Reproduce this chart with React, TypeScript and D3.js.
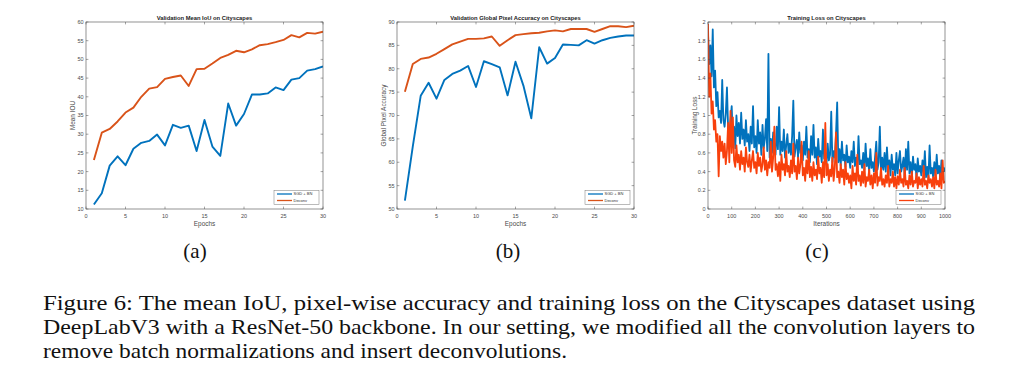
import * as d3 from 'd3';

// ---- data ----
const EPOCHS = [1, 2, 3, 4, 5, 6, 7, 8, 9, 10, 11, 12, 13, 14, 15, 16, 17, 18, 19, 20, 21, 22, 23, 24, 25, 26, 27, 28, 29, 30];

const IOU_SGD = [11.2, 14.2, 21.6, 24.1, 21.7, 26.1, 27.7, 28.2, 29.9, 27.0, 32.5, 31.7, 32.3, 25.5, 33.8, 26.7, 24.2, 38.2, 32.3, 35.4, 40.6, 40.6, 40.9, 42.5, 41.8, 44.6, 45.0, 47.0, 47.4, 48.1];
const IOU_DECONV = [23.1, 30.4, 31.4, 33.4, 35.8, 37.1, 40.0, 42.2, 42.6, 44.8, 45.3, 45.7, 42.9, 47.4, 47.5, 48.9, 50.4, 51.2, 52.3, 51.9, 52.7, 53.8, 54.1, 54.6, 55.2, 56.5, 55.9, 57.1, 56.9, 57.4];

const ACC_SGD = [51.8, 63.4, 74.2, 77.0, 73.6, 77.6, 78.9, 79.6, 80.6, 76.1, 81.6, 81.0, 80.3, 74.3, 81.5, 76.4, 69.4, 84.6, 81.1, 82.3, 85.2, 85.1, 85.0, 86.1, 85.4, 86.1, 86.6, 86.9, 87.1, 87.1];
const ACC_DECONV = [75.1, 81.0, 82.1, 82.4, 83.2, 84.2, 85.2, 85.8, 86.4, 86.4, 86.5, 86.9, 84.9, 86.1, 87.2, 87.4, 87.6, 87.7, 88.0, 88.2, 88.0, 88.5, 88.5, 88.5, 87.9, 88.5, 89.1, 89.1, 88.9, 89.2];

// loss sampled every 5 iterations, 0..1000
const LOSS_ITERS = d3.range(0, 1001, 5);
const LOSS_SGD = [
  1.88, 1.55, 1.75, 1.42, 1.92, 1.30, 1.48, 1.10, 1.25, 0.98,
  1.05, 0.92, 1.38, 0.95, 0.88, 1.02, 1.30, 0.85, 0.78, 0.95,
  1.10, 0.72, 0.88, 0.65, 1.00, 0.78, 0.92, 0.70, 1.03, 0.75,
  0.85, 0.68, 0.95, 0.72, 0.80, 0.62, 0.88, 0.70, 1.10, 0.66,
  0.78, 0.60, 0.95, 0.70, 0.82, 0.58, 0.90, 0.65, 0.75, 0.96,
  0.62, 1.66, 0.55, 0.75, 0.60, 0.82, 0.68, 0.58, 0.88, 0.64,
  1.09, 0.58, 0.72, 0.62, 0.85, 0.55, 0.68, 0.80, 0.60, 0.70,
  0.58, 0.78, 1.16, 0.56, 0.66, 0.74, 0.55, 0.82, 0.60, 0.68,
  0.52, 0.72, 0.58, 0.88, 0.55, 0.64, 0.50, 0.78, 0.58, 0.90,
  0.55, 0.66, 0.48, 0.75, 0.56, 0.62, 0.50, 0.85, 0.54, 0.60,
  0.48, 0.70, 0.52, 0.58, 1.04, 0.50, 0.62, 0.55, 0.80, 1.14,
  0.50, 0.64, 0.46, 0.72, 0.52, 0.58, 0.45, 0.68, 0.50, 0.56,
  0.44, 0.62, 0.50, 0.72, 0.46, 0.55, 0.42, 0.78, 0.48, 0.52,
  0.44, 0.60, 0.42, 0.70, 0.46, 0.54, 0.40, 0.64, 0.44, 0.50,
  0.40, 0.56, 0.72, 0.42, 0.50, 0.88, 0.40, 0.55, 0.42, 0.60,
  0.40, 0.66, 0.44, 0.52, 0.36, 0.58, 0.42, 0.48, 0.36, 0.60,
  0.38, 0.52, 0.62, 0.40, 0.46, 0.55, 0.34, 0.64, 0.42, 0.72,
  0.38, 0.50, 0.34, 0.56, 0.42, 0.48, 0.33, 0.54, 0.40, 0.46,
  0.36, 0.52, 0.38, 0.62, 0.34, 0.45, 0.33, 0.68, 0.38, 0.44,
  0.34, 0.50, 0.36, 0.58, 0.38, 0.46, 0.32, 0.52, 0.36, 0.44,
  0.40,
];
const LOSS_DECONV = [
  1.98, 1.20, 1.45, 1.02, 1.15, 0.85, 0.95, 0.72, 0.80, 0.35,
  0.78, 0.62, 0.72, 0.55, 0.70, 0.48, 0.62, 0.92, 0.50, 1.05,
  0.60, 0.98, 0.52, 0.45, 0.68, 0.50, 0.58, 0.42, 0.62, 0.48,
  0.55, 0.40, 0.66, 0.50, 0.45, 0.58, 0.40, 0.52, 0.62, 0.44,
  0.50, 0.38, 0.60, 0.46, 0.55, 0.40, 0.48, 0.66, 0.42, 0.52,
  0.36, 0.50, 0.44, 0.72, 0.40, 0.55, 0.88, 0.42, 0.48, 0.35,
  0.50, 0.30, 0.58, 0.42, 0.48, 0.36, 0.62, 0.40, 0.46, 0.34,
  0.52, 0.38, 0.70, 0.40, 0.46, 0.32, 0.55, 0.38, 0.48, 0.72,
  0.36, 0.44, 0.30, 0.52, 0.38, 0.62, 0.34, 0.45, 0.30, 0.50,
  0.36, 0.42, 0.32, 0.56, 0.38, 0.44, 0.28, 0.50, 0.34, 0.92,
  0.36, 0.48, 0.30, 0.42, 0.35, 0.55, 0.30, 0.44, 0.82, 0.34,
  0.40, 0.28, 0.48, 0.34, 0.42, 0.26, 0.50, 0.32, 0.38, 0.28,
  0.36, 0.22, 0.46, 0.30, 0.38, 0.26, 0.58, 0.30, 0.36, 0.25,
  0.40, 0.28, 0.48, 0.24, 0.34, 0.30, 0.42, 0.26, 0.36, 0.22,
  0.38, 0.28, 0.60, 0.25, 0.34, 0.30, 0.44, 0.26, 0.32, 0.24,
  0.36, 0.28, 0.46, 0.24, 0.32, 0.28, 0.40, 0.24, 0.34, 0.22,
  0.35, 0.26, 0.42, 0.28, 0.32, 0.24, 0.44, 0.26, 0.30, 0.22,
  0.36, 0.26, 0.40, 0.24, 0.30, 0.28, 0.38, 0.22, 0.34, 0.26,
  0.32, 0.24, 0.46, 0.26, 0.30, 0.22, 0.36, 0.28, 0.32, 0.24,
  0.34, 0.22, 0.42, 0.26, 0.30, 0.24, 0.38, 0.22, 0.52, 0.28,
  0.30,
];

const EPOCH_TICKS = [0, 5, 10, 15, 20, 25, 30];
const IOU_TICKS = [10, 15, 20, 25, 30, 35, 40, 45, 50, 55, 60];
const ACC_TICKS = [50, 55, 60, 65, 70, 75, 80, 85, 90];
const ITER_TICKS = [0, 100, 200, 300, 400, 500, 600, 700, 800, 900, 1000];
const LOSS_TICKS = [0, 0.2, 0.4, 0.6, 0.8, 1, 1.2, 1.4, 1.6, 1.8, 2];

const LEGEND = ['SGD + BN', 'Deconv'];
const SUBLABELS = ['(a)', '(b)', '(c)'];
const CAPTION = [
  'Figure 6: The mean IoU, pixel-wise accuracy and training loss on the Cityscapes dataset using',
  'DeepLabV3 with a ResNet-50 backbone. In our setting, we modified all the convolution layers to',
  'remove batch normalizations and insert deconvolutions.',
];
const CAPTION_WIDTHS = [932, 932, 524];

const BLUE = '#0072BD';
const ORANGE = '#D95319';
const RED = '#F8400C';
const AXIS = '#4a4a4a';
const SANS = 'Liberation Sans, Arial, sans-serif';
const SERIF = 'Liberation Serif, Times New Roman, serif';

const TOP = 22;
const BOTTOM = 209;
const PW = 237;

type Series = { x: number[]; y: number[]; color: string; width: number };

function Panel(props: {
  left: number;
  title: string;
  xLabel: string;
  yLabel: string;
  xDomain: [number, number];
  yDomain: [number, number];
  xTicks: number[];
  yTicks: number[];
  series: Series[];
}) {
  const { left, title, xLabel, yLabel, xDomain, yDomain, xTicks, yTicks, series } = props;
  const right = left + PW;
  const x = d3.scaleLinear().domain(xDomain).range([left, right]);
  const y = d3.scaleLinear().domain(yDomain).range([BOTTOM, TOP]);
  const tl = 2.4;

  const lgW = 45;
  const lgX = right - lgW - 4;
  const lgY = 190.5;

  return (
    <g fontFamily={SANS}>
      <defs>
        <clipPath id={`clip${left}`}>
          <rect x={left} y={TOP} width={PW} height={BOTTOM - TOP} />
        </clipPath>
      </defs>
      <rect x={left} y={TOP} width={PW} height={BOTTOM - TOP} fill="#fff" />
      <g clipPath={`url(#clip${left})`}>
        {series.map((s, i) => {
          const pts = s.x.map((v, k) => [v, s.y[k]] as [number, number]);
          const path = d3
            .line<[number, number]>()
            .x((d) => x(d[0]))
            .y((d) => y(d[1]))(pts);
          return (
            <path key={i} d={path ?? ''} fill="none" stroke={s.color} strokeWidth={s.width} strokeLinejoin="round" />
          );
        })}
      </g>
      <rect x={left} y={TOP} width={PW} height={BOTTOM - TOP} fill="none" stroke={AXIS} strokeWidth={0.6} />
      {xTicks.map((t) => (
        <g key={`x${t}`}>
          <line x1={x(t)} x2={x(t)} y1={BOTTOM} y2={BOTTOM - tl} stroke={AXIS} strokeWidth={0.5} />
          <line x1={x(t)} x2={x(t)} y1={TOP} y2={TOP + tl} stroke={AXIS} strokeWidth={0.5} />
          <text x={x(t)} y={217.5} fontSize={5.5} fill={AXIS} textAnchor="middle">
            {t}
          </text>
        </g>
      ))}
      {yTicks.map((t) => (
        <g key={`y${t}`}>
          <line x1={left} x2={left + tl} y1={y(t)} y2={y(t)} stroke={AXIS} strokeWidth={0.5} />
          <line x1={right} x2={right - tl} y1={y(t)} y2={y(t)} stroke={AXIS} strokeWidth={0.5} />
          <text x={left - 2.5} y={y(t)} dy="0.35em" fontSize={5.5} fill={AXIS} textAnchor="end">
            {d3.format('~g')(t)}
          </text>
        </g>
      ))}
      <text x={(left + right) / 2} y={19.5} fontSize={5.8} fontWeight="bold" fill="#222" textAnchor="middle">
        {title}
      </text>
      <text x={(left + right) / 2} y={225.5} fontSize={6.4} fill={AXIS} textAnchor="middle">
        {xLabel}
      </text>
      <text
        transform={`translate(${left - 13},${(TOP + BOTTOM) / 2}) rotate(-90)`}
        fontSize={6.4}
        fill={AXIS}
        textAnchor="middle"
        dy="0.35em"
      >
        {yLabel}
      </text>
      <rect x={lgX} y={lgY} width={lgW} height={14} fill="#fff" stroke="#777" strokeWidth={0.5} />
      {series.map((s, i) => (
        <g key={`lg${i}`}>
          <line
            x1={lgX + 3}
            x2={lgX + 18}
            y1={lgY + 3.5 + i * 6.5}
            y2={lgY + 3.5 + i * 6.5}
            stroke={s.color}
            strokeWidth={1.3}
          />
          <text x={lgX + 19.5} y={lgY + 3.5 + i * 6.5} dy="0.35em" fontSize={4} fill="#333">
            {LEGEND[i]}
          </text>
        </g>
      ))}
    </g>
  );
}

export default function App() {
  const lefts = [86, 397, 708];
  const subX = [195, 508, 817];
  return (
    <svg
      width={1024}
      height={388}
      viewBox="0 0 1024 388"
      style={{ position: 'absolute', left: 0, top: 0, background: '#fff' }}
    >
      <rect width={1024} height={388} fill="#fff" />
      <Panel
        left={lefts[0]}
        title="Validation Mean IoU on Cityscapes"
        xLabel="Epochs"
        yLabel="Mean IOU"
        xDomain={[0, 30]}
        yDomain={[10, 60]}
        xTicks={EPOCH_TICKS}
        yTicks={IOU_TICKS}
        series={[
          { x: EPOCHS, y: IOU_SGD, color: BLUE, width: 1.9 },
          { x: EPOCHS, y: IOU_DECONV, color: ORANGE, width: 1.9 },
        ]}
      />
      <Panel
        left={lefts[1]}
        title="Validation Global Pixel Accuracy on Cityscapes"
        xLabel="Epochs"
        yLabel="Global Pixel Accuracy"
        xDomain={[0, 30]}
        yDomain={[50, 90]}
        xTicks={EPOCH_TICKS}
        yTicks={ACC_TICKS}
        series={[
          { x: EPOCHS, y: ACC_SGD, color: BLUE, width: 1.9 },
          { x: EPOCHS, y: ACC_DECONV, color: ORANGE, width: 1.9 },
        ]}
      />
      <Panel
        left={lefts[2]}
        title="Training Loss on Cityscapes"
        xLabel="Iterations"
        yLabel="Training Loss"
        xDomain={[0, 1000]}
        yDomain={[0, 2]}
        xTicks={ITER_TICKS}
        yTicks={LOSS_TICKS}
        series={[
          { x: LOSS_ITERS, y: LOSS_SGD, color: BLUE, width: 1.8 },
          { x: LOSS_ITERS, y: LOSS_DECONV, color: RED, width: 1.8 },
        ]}
      />
      <g fontFamily={SERIF} fill="#111">
        {SUBLABELS.map((s, i) => (
          <text key={s} x={subX[i]} y={258} fontSize={21} textAnchor="middle">
            {s}
          </text>
        ))}
        {CAPTION.map((line, i) => (
          <text
            key={i}
            x={43}
            y={310 + i * 24}
            fontSize={21.5}
            textLength={CAPTION_WIDTHS[i]}
            lengthAdjust="spacingAndGlyphs"
          >
            {line}
          </text>
        ))}
      </g>
    </svg>
  );
}
